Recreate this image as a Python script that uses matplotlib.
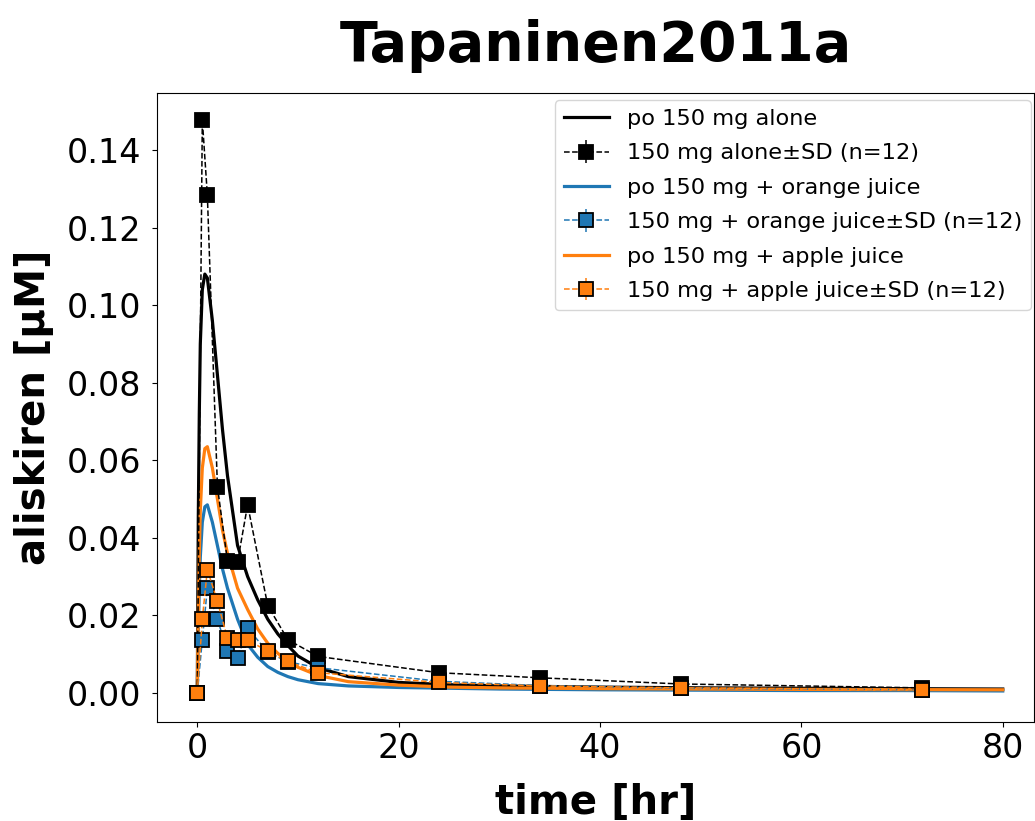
import matplotlib
matplotlib.use('Agg')
import matplotlib.pyplot as plt

# ---------- observed data (mean, SD) ----------
t_obs = [0, 0.5, 1, 2, 3, 4, 5, 7, 9, 12, 24, 34, 48, 72]
alone_obs = [0, 0.1478, 0.1284, 0.0532, 0.0340, 0.0338, 0.0485, 0.0225, 0.0137, 0.0094, 0.0052, 0.0039, 0.0023, 0.0013]
oj_obs = [0, 0.0137, 0.0270, 0.0190, 0.0107, 0.0089, 0.0167, 0.0105, 0.0080, 0.0065, 0.0030, 0.0019, 0.0012, 0.0008]
aj_obs = [0, 0.0190, 0.0318, 0.0236, 0.0141, 0.0137, 0.0137, 0.0107, 0.0081, 0.0052, 0.0027, 0.0018, 0.0013, 0.0008]
sd_zero = [0] * len(t_obs)

# ---------- simulated curves ----------
t_sim = [0, 0.1, 0.2, 0.3, 0.5, 0.75, 1.0, 1.5, 2, 2.5, 3, 4, 5, 6, 7, 8, 9, 10, 12, 15, 20, 25, 30, 40, 50, 60, 70, 80]
alone_sim = [0, 0.045, 0.072, 0.090, 0.104, 0.108, 0.107, 0.096, 0.082, 0.068, 0.056, 0.038, 0.030, 0.024, 0.019, 0.0152,
             0.0122, 0.0095, 0.0065, 0.0042, 0.0027, 0.0021, 0.0018, 0.0015, 0.0013, 0.0012, 0.0011, 0.0010]
oj_sim = [0, 0.015, 0.027, 0.035, 0.044, 0.048, 0.0485, 0.044, 0.038, 0.032, 0.027, 0.019, 0.0125, 0.0092, 0.0068, 0.0053,
          0.0042, 0.0034, 0.0024, 0.0018, 0.0014, 0.0012, 0.0010, 0.0008, 0.0007, 0.0006, 0.0006, 0.0005]
aj_sim = [0, 0.020, 0.036, 0.047, 0.058, 0.063, 0.0635, 0.058, 0.050, 0.042, 0.036, 0.027, 0.0215, 0.0165, 0.0128, 0.0102,
          0.0082, 0.0066, 0.0045, 0.0029, 0.0020, 0.0015, 0.0013, 0.0011, 0.0010, 0.0009, 0.00085, 0.0008]

fig = plt.figure(figsize=(10.35, 8.21), dpi=100)
ax = fig.add_axes([0.1517, 0.1206, 0.8473, 0.7661])

series = [
  ('alone', 'black', alone_sim, alone_obs),
  ('orange juice', '#1f77b4', oj_sim, oj_obs),
  ('apple juice', '#ff7f0e', aj_sim, aj_obs),
]
handles = []
for name, col, sim, obs in series:
  lab_sim = 'po 150 mg alone' if name == 'alone' else f'po 150 mg + {name}'
  lab_obs = '150 mg alone±SD (n=12)' if name == 'alone' else f'150 mg + {name}±SD (n=12)'
  ln, = ax.plot(t_sim, sim, color=col, lw=2.3, label=lab_sim)
  eb = ax.errorbar(t_obs, obs, yerr=sd_zero, color=col, ls='--', lw=1.1, marker='s', markersize=10,
                   markerfacecolor=col, markeredgecolor='black', markeredgewidth=1.3, ecolor=col, elinewidth=1.1,
                   label=lab_obs)
  handles += [ln, eb]

ax.set_xlim(-4, 83.1)
ax.set_ylim(-0.0075, 0.1547)
ax.set_xticks([0, 20, 40, 60, 80])
ax.set_yticks([0, 0.02, 0.04, 0.06, 0.08, 0.10, 0.12, 0.14])
ax.yaxis.set_major_formatter(matplotlib.ticker.FormatStrFormatter('%.2f'))
ax.tick_params(labelsize=24)
ax.tick_params(axis='y', pad=8)

ax.set_xlabel('time [hr]', fontsize=29, fontweight='bold', labelpad=13)
ax.set_ylabel('aliskiren [µM]', fontsize=29, fontweight='bold', labelpad=9)
ax.set_title('Tapaninen2011a', fontsize=40, fontweight='bold', pad=23)
ax.legend(handles=handles, labels=[h.get_label() for h in handles], loc='upper right',
          bbox_to_anchor=(0.9966, 0.9889), borderaxespad=0, fontsize=16.2, labelspacing=0.64)

fig.savefig('out.png', dpi=100)
